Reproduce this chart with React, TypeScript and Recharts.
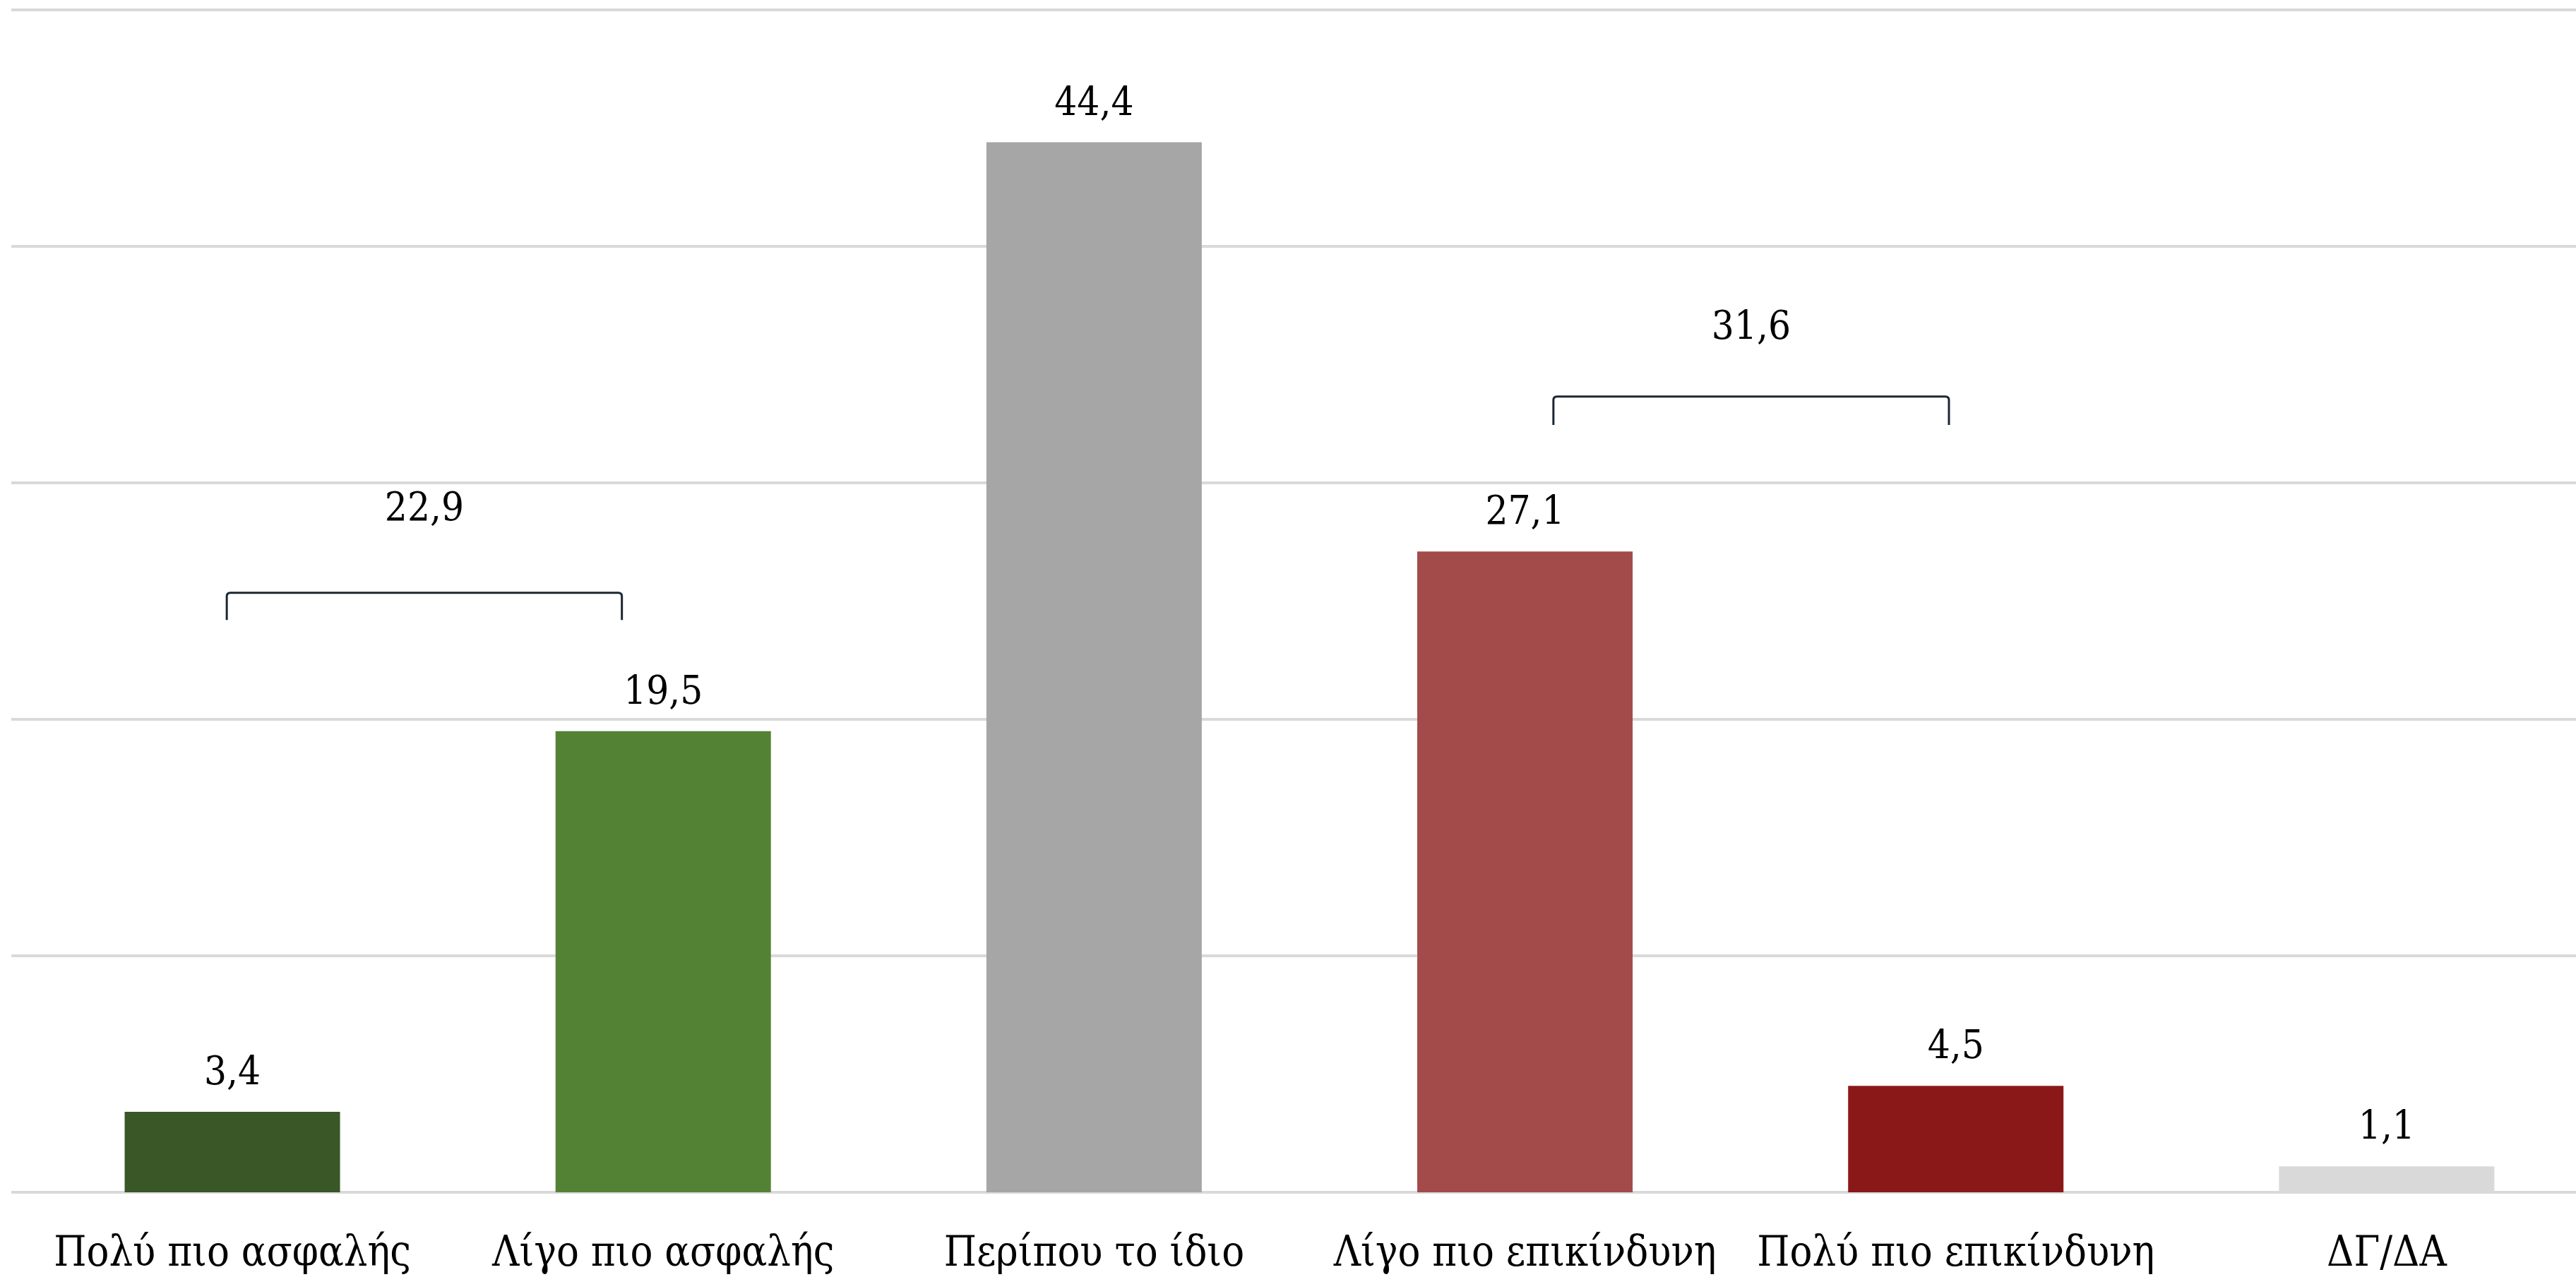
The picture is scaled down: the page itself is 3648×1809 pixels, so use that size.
import {
  Bar,
  BarChart,
  CartesianGrid,
  Cell,
  LabelList,
  ReferenceLine,
  XAxis,
  YAxis,
} from "recharts";

const categories = [
  "Πολύ πιο ασφαλής",
  "Λίγο πιο ασφαλής",
  "Περίπου το ίδιο",
  "Λίγο πιο επικίνδυνη",
  "Πολύ πιο επικίνδυνη",
  "ΔΓ/ΔΑ",
];
const values = [3.4, 19.5, 44.4, 27.1, 4.5, 1.1];
const yTicks = [0, 10, 20, 30, 40, 50];

// grouped totals shown above the brackets
const groupTotals = [22.9, 31.6];
// which pair of categories each bracket groups
const bracketPairs = [
  [0, 1],
  [3, 4],
];
// bracket ends, in category units (0 = centre of first category of the pair)
const bracketEnds = [
  [-0.013, 0.904],
  [0.066, 0.984],
];
// bracket bottom/top levels in value units
const bracketLevels = [
  [24.2, 25.35],
  [32.45, 33.65],
];
const bracketLabelGap = [103, 82];

const COLORS = ["#3a5727", "#548235", "#a6a6a6", "#a34a4a", "#8b1819", "#d9d9d9"];
const FONT = "'DejaVu Serif Condensed', 'DejaVu Serif', serif";

const data = categories.map((name, i) => ({ name, value: values[i] }));

const fmt = (v: number) => v.toFixed(1).replace(".", ",");

function CategoryTick({ x, y, payload }: any) {
  return (
    <text
      x={x}
      y={y}
      dy={104}
      textAnchor="middle"
      fill="#000"
      fontSize={59}
      fontFamily={FONT}
      style={{ fontStretch: "condensed" }}
    >
      {payload.value}
    </text>
  );
}

function bracketShape(i: number) {
  return (props: any) => {
    const { x1, y1, x2, y2 } = props;
    const step = x2 - x1;
    const left = x1 + bracketEnds[i][0] * step;
    const right = x1 + bracketEnds[i][1] * step;
    const top = y1;
    const bottom = y2;
    const r = 5;
    const d = `M${left},${bottom} L${left},${top + r} Q${left},${top} ${left + r},${top} L${right - r},${top} Q${right},${top} ${right},${top + r} L${right},${bottom}`;
    return (
      <g>
        <path d={d} fill="none" stroke="#1c2733" strokeWidth={3} />
        <text
          x={(left + right) / 2}
          y={top - bracketLabelGap[i]}
          textAnchor="middle"
          fill="#000"
          fontSize={56}
          fontFamily={FONT}
          style={{ fontStretch: "condensed" }}
        >
          {fmt(groupTotals[i])}
        </text>
      </g>
    );
  };
}

export default function App() {
  return (
    <div
      style={{
        position: "absolute",
        left: 0,
        top: 0,
        width: 3648,
        height: 1809,
        overflow: "hidden",
        background: "#fff",
      }}
    >
      <BarChart
        width={3685}
        height={1809}
        data={data}
        margin={{ top: 14, right: 0, bottom: 0, left: 16 }}
        barCategoryGap="25%"
      >
        <CartesianGrid vertical={false} stroke="#d9d9d9" strokeWidth={4} />
        <XAxis
          dataKey="name"
          axisLine={false}
          tickLine={false}
          tickSize={0}
          tickMargin={0}
          interval={0}
          height={120}
          padding={{ left: 8, right: 0 }}
          tick={<CategoryTick />}
        />
        <YAxis hide domain={[0, 50]} ticks={yTicks} />
        <Bar dataKey="value" isAnimationActive={false}>
          {data.map((d, i) => (
            <Cell key={d.name} fill={COLORS[i]} />
          ))}
          <LabelList
            dataKey="value"
            position="top"
            offset={39}
            formatter={(v: any) => fmt(Number(v))}
            fill="#000"
            fontSize={56}
            fontFamily={FONT}
            style={{ fontStretch: "condensed" }}
          />
        </Bar>
        {bracketPairs.map(([a, b], i) => (
          <ReferenceLine
            key={`bracket${i}`}
            segment={[
              { x: categories[a], y: bracketLevels[i][1] },
              { x: categories[b], y: bracketLevels[i][0] },
            ]}
            ifOverflow="visible"
            shape={bracketShape(i)}
          />
        ))}
      </BarChart>
    </div>
  );
}
